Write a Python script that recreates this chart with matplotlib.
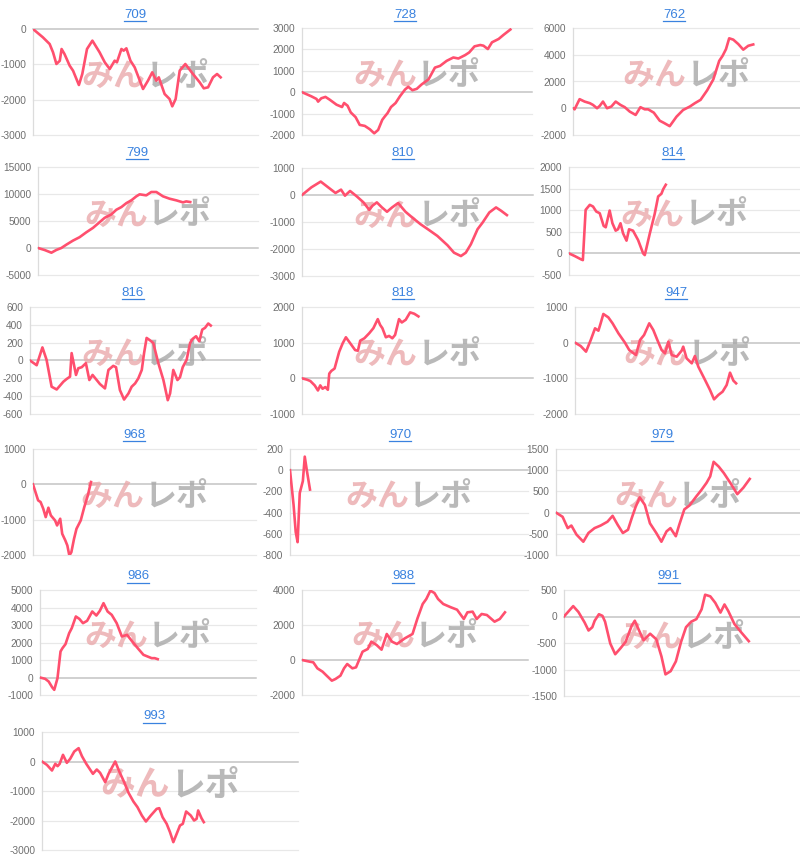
import matplotlib
matplotlib.use("Agg")
import matplotlib.pyplot as plt
from matplotlib.lines import Line2D

plt.rcParams["font.family"] = ["Liberation Sans", "DejaVu Sans"]
plt.rcParams["axes.unicode_minus"] = False

# ---- data: x = progress (% of common range), y = balance ----
titles = ["709", "728", "762", "799", "810", "814", "816", "818", "947",
          "968", "970", "979", "986", "988", "991", "993"]

x709 = [0, 4.4, 7.4, 8.9, 10.4, 11.9, 12.7, 14, 16.3, 17.8, 20.4, 21.9, 24, 26.4, 29.6, 31.9, 34.1, 36.3,
        37.3, 39.3, 40.3, 41.5, 43.3, 45.2, 48.9, 51.1, 53, 54.8, 55.9, 58.5, 60.7, 61.9, 63.4, 65.2, 67.7,
        71.1, 74.1, 75.9, 77.8, 80, 81.8, 83.4]
y709 = [0, -236, -425, -660, -990, -900, -566, -708, -1038, -1180, -1585, -1274, -566, -330, -660, -943,
        -1132, -896, -943, -566, -613, -547, -896, -1085, -1698, -1462, -1226, -1462, -1368, -1840, -1981,
        -2189, -1981, -1179, -991, -1274, -1510, -1679, -1651, -1368, -1274, -1368]

x728 = [0, 4, 6.3, 7, 8.4, 10.2, 12, 15, 17.4, 18.3, 19.8, 21.2, 23.3, 25.1, 27.3, 29.5, 31.4, 33.1, 34.9,
        36, 37.2, 38.7, 40.7, 42.6, 44.8, 46.2, 48, 49.9, 52, 55, 57.8, 60, 62.9, 65.8, 68, 70.9, 72.7, 75,
        77.5, 78.9, 80.8, 82.6, 85.5, 87.6, 90.6]
y728 = [0, -189, -315, -441, -283, -220, -346, -583, -693, -504, -630, -945, -1165, -1528, -1575, -1732,
        -1921, -1764, -1291, -1134, -976, -693, -504, -189, 126, 252, 94, 157, 362, 598, 1150, 1228, 1465,
        1622, 1575, 1732, 1858, 2142, 2205, 2173, 2016, 2331, 2488, 2677, 2929]

x762 = [0, 0.7, 2.9, 5.1, 7.4, 8.8, 10.6, 11.8, 13.2, 15, 16.9, 18.8, 20.9, 22.8, 25, 27.6, 29.7, 31.6,
        33.1, 35.6, 38.2, 40, 42.6, 45.6, 48.5, 51.5, 53.7, 56.2, 59.1, 61.8, 64.4, 65.9, 67.4, 68.8, 70.6,
        72.8, 75, 77.2, 79.4]
y762 = [0, -80, 680, 500, 380, 250, 0, 180, 500, 0, 130, 500, 250, 80, -250, -500, 80, -80, -80, -330,
        -930, -1090, -1340, -630, -130, 130, 380, 630, 1340, 2150, 3540, 3920, 4420, 5230, 5130, 4800,
        4380, 4670, 4770]

x799 = [0, 3, 6.1, 8.3, 10.6, 12.9, 15.9, 18.9, 22, 25, 28, 30.3, 33.3, 35.6, 37.9, 40.2, 42.4, 44.7,
        46.2, 49.2, 51.5, 53.8, 56.8, 59.8, 62.9, 65.9, 67.4, 69.2]
y799 = [0, -370, -870, -370, 0, 620, 1370, 2000, 2920, 3730, 4780, 5590, 6210, 7080, 7580, 8320, 8820,
        9570, 9940, 9750, 10370, 10370, 9570, 9130, 8820, 8450, 8630, 8510]

x810 = [0, 4.1, 8.1, 11.3, 14.5, 16.9, 18.6, 20.8, 23.7, 26.6, 29.1, 30.5, 32.4, 34.6, 36.8, 39, 41.6,
        44.8, 47.7, 51.3, 54.9, 58.6, 63, 65.8, 68.8, 70.9, 73.1, 76, 78.2, 81.1, 84, 86.2, 88.7]
y810 = [0, 286, 497, 286, 75, 199, -25, 149, -50, -273, -547, -398, -273, -460, -621, -460, -298, -621,
        -832, -1081, -1292, -1516, -1863, -2137, -2261, -2137, -1826, -1267, -1019, -646, -460, -584, -745]

x814 = [0, 2.5, 5.3, 6, 7.2, 9, 10.4, 11.8, 13.3, 15, 15.9, 17.6, 18.8, 20.2, 21.2, 22.3, 23.4, 24.9, 26,
        27.7, 29.9, 32.1, 32.8, 35, 37.1, 38.6, 40, 40.8, 41.9]
y814 = [0, -62, -140, -155, 1008, 1124, 1085, 969, 930, 636, 605, 992, 698, 527, 558, 698, 465, 295, 558,
        527, 310, 0, -39, 465, 915, 1318, 1380, 1488, 1589]

x816 = [0, 2.9, 5.4, 7.2, 9.4, 11.6, 14.5, 15.9, 17.4, 18.1, 20, 21, 22.5, 24.3, 25.8, 27.2, 29, 30.4,
        32.6, 34.1, 36.2, 37.4, 39.1, 40.9, 42.8, 44.2, 45.7, 47.1, 48.6, 49.6, 50.7, 52.2, 53.6, 55.8, 58,
        59.9, 60.9, 62.3, 64.1, 65.2, 66.4, 68.1, 69.6, 70.7, 72.2, 73.6, 74.9, 76.1, 77.5, 78.6]
y816 = [0, -53, 147, 8, -294, -325, -238, -208, -181, 83, -162, -87, -75, -30, -219, -162, -219, -264,
        -313, -106, -60, -75, -332, -438, -370, -294, -257, -200, -106, 83, 253, 226, 196, -30, -219, -445,
        -370, -106, -219, -189, -75, 8, 196, 242, 272, 215, 347, 366, 415, 392]

x818 = [0, 2.2, 3.6, 5.5, 6.9, 7.9, 8.9, 10.1, 11.2, 11.8, 12.7, 14.1, 16.1, 17.6, 19, 20.9, 23, 24.2,
        25.2, 27, 29.1, 30.9, 32.8, 33.8, 34.8, 36.3, 37.7, 39.1, 40.3, 42, 43.2, 44.9, 46.8, 48.6, 50.4]
y818 = [0, -38, -75, -198, -340, -198, -292, -245, -321, 132, 208, 274, 745, 981, 1151, 981, 792, 774,
        1057, 1123, 1264, 1406, 1660, 1500, 1406, 1151, 1189, 1123, 1217, 1660, 1566, 1642, 1849, 1811, 1736]

x947 = [0, 2.5, 4.9, 7, 8.9, 10.4, 11.4, 12.6, 14.8, 16.7, 19.3, 22.2, 24.1, 27.1, 28.9, 30.7, 33, 34.8,
        36.6, 38.5, 40, 41.5, 43, 45.2, 47.4, 48.1, 49.6, 51.9, 53.3, 54.8, 57.8, 60, 61.8, 63.7, 65.6,
        67.4, 68.9, 70.4, 71.6]
y947 = [0, -93, -252, 75, 402, 336, 542, 804, 710, 542, 262, 0, -206, -346, 75, 215, 542, 355, 75, -206,
        -299, 28, -346, -393, -224, -112, -439, -579, -374, -673, -1047, -1327, -1589, -1467, -1374, -1187,
        -841, -1065, -1140]

x968 = [0, 1.1, 2.3, 3.4, 4.6, 5.7, 6.9, 8, 9.9, 10.8, 12.2, 13.1, 14.5, 15.4, 16.3, 17.2, 18.4, 19.5,
        21.4, 23, 24.6, 26]
y968 = [0, -218, -454, -501, -690, -927, -662, -880, -1022, -1164, -974, -1400, -1589, -1731, -2015,
        -1920, -1542, -1258, -1022, -643, -312, 66]

x970 = [0, 1.5, 2.4, 3.2, 4.1, 5.4, 6.2, 7.1, 8.4]
y970 = [0, -327, -583, -679, -215, -103, 128, -6, -183]

x979 = [0, 2.7, 4.8, 6.3, 8.4, 11.2, 13.3, 15.8, 18.3, 21.1, 23.2, 25.3, 27.4, 29.5, 31, 32.6, 34.3,
        36.4, 38.5, 41.1, 43.2, 45.3, 46.9, 49.1, 50.5, 52.6, 54.7, 57.5, 59.6, 61.7, 63.2, 64.6, 66.7,
        68.8, 71.6, 74.3, 76.8, 79.4]
y979 = [0, -99, -366, -305, -519, -687, -481, -366, -305, -214, -76, -290, -481, -405, -137, 130, 359,
        183, -252, -481, -687, -443, -366, -557, -290, 76, 168, 382, 534, 702, 855, 1198, 1084, 931, 687,
        435, 588, 794]

x986 = [0, 2.4, 4, 5.7, 6.6, 8.1, 9.5, 10.4, 11.8, 13.5, 14.7, 16.6, 18.2, 19.9, 21.8, 24.2, 26.1, 27.7,
        29.4, 31.3, 33.2, 35.5, 37.9, 40.3, 42.7, 45.5, 47.9, 49.8, 51.7, 53.1, 54.5]
y986 = [0, -76, -229, -571, -705, -38, 1486, 1676, 1905, 2533, 2819, 3486, 3352, 3105, 3238, 3771, 3543,
        3810, 4248, 3771, 3581, 3105, 2343, 2438, 2057, 1638, 1295, 1200, 1105, 1105, 1048]

x988 = [0, 3.4, 5, 6.8, 9.1, 10.9, 13.2, 14.8, 17, 18.6, 20, 22.3, 23.9, 26.8, 29.1, 30.7, 33, 35.2, 37.5,
        39.8, 42, 45.5, 48.9, 51.1, 53.4, 55, 56.8, 58.6, 60.2, 62.5, 65.9, 68.6, 71.6, 73.2, 75.5, 77.3,
        79.5, 81.8, 85.2, 87.5, 89.8]
y988 = [0, -95, -133, -476, -667, -895, -1181, -1086, -895, -476, -229, -476, -419, 476, 629, 1048, 857,
        590, 1486, 1048, 914, 1238, 1486, 2381, 3200, 3486, 3962, 3829, 3486, 3200, 3010, 2876, 2343, 2724,
        2762, 2343, 2629, 2571, 2190, 2343, 2724]

x991 = [0, 1.7, 3.9, 6.1, 8.7, 10.4, 12, 13, 14.8, 16.3, 17.4, 19.6, 21.7, 23.9, 26.1, 28.7, 30, 31.5,
        33.7, 36.5, 39.1, 41.3, 43, 45.2, 47.4, 49.6, 51.7, 53.9, 56.1, 58.3, 59.8, 62, 64.1, 66.3, 68,
        69.6, 72.2, 75, 78.3]
y991 = [0, 86, 196, 86, -110, -264, -202, -80, 43, 12, -98, -509, -712, -601, -479, -172, -80, -233,
        -448, -325, -429, -755, -1092, -1031, -847, -479, -202, -98, -49, 135, 411, 380, 258, 74, 227, 104,
        -141, -294, -466]

x993 = [0, 1.9, 3.9, 5.2, 6.1, 6.9, 8.2, 9.7, 11, 12.6, 14.3, 15.6, 17.3, 18.6, 19.9, 21.4, 22.7, 24.7,
        26, 28.6, 30.3, 32.1, 33.8, 35.7, 37.3, 39, 40.6, 42.5, 44.8, 45.8, 47.1, 48.7, 50, 51.3, 52.6,
        53.9, 55, 56.3, 58.1, 59.4, 60.4, 61, 62.3, 63.2]
y993 = [0, -113, -305, -79, -158, -79, 226, -45, 90, 339, 452, 181, -79, -249, -418, -271, -384, -701,
        -418, 0, -362, -701, -1062, -1356, -1548, -1830, -2034, -1830, -1605, -1582, -1887, -2113, -2395,
        -2734, -2452, -2169, -2113, -1695, -1830, -2000, -1943, -1661, -1921, -2056]

# y-axis tick values for each chart
ticks709 = [-3000, -2000, -1000, 0]
ticks728 = [-2000, -1000, 0, 1000, 2000, 3000]
ticks762 = [-2000, 0, 2000, 4000, 6000]
ticks799 = [-5000, 0, 5000, 10000, 15000]
ticks810 = [-3000, -2000, -1000, 0, 1000]
ticks814 = [-500, 0, 500, 1000, 1500, 2000]
ticks816 = [-600, -400, -200, 0, 200, 400, 600]
ticks818 = [-1000, 0, 1000, 2000]
ticks947 = [-2000, -1000, 0, 1000]
ticks968 = [-2000, -1000, 0, 1000]
ticks970 = [-800, -600, -400, -200, 0, 200]
ticks979 = [-1000, -500, 0, 500, 1000, 1500]
ticks986 = [-1000, 0, 1000, 2000, 3000, 4000, 5000]
ticks988 = [-2000, 0, 2000, 4000]
ticks991 = [-1500, -1000, -500, 0, 500]
ticks993 = [-3000, -2000, -1000, 0, 1000]

series = [(x709, y709, ticks709), (x728, y728, ticks728), (x762, y762, ticks762),
          (x799, y799, ticks799), (x810, y810, ticks810), (x814, y814, ticks814),
          (x816, y816, ticks816), (x818, y818, ticks818), (x947, y947, ticks947),
          (x968, y968, ticks968), (x970, y970, ticks970), (x979, y979, ticks979),
          (x986, y986, ticks986), (x988, y988, ticks988), (x991, y991, ticks991),
          (x993, y993, ticks993)]

# ---- layout (pixels): plot box left, right, top, bottom; title centre ----
W, H = 800, 863
boxes = [
    (33, 258, 29, 135), (302, 532, 28, 135), (573, 800, 28, 135),
    (38, 258, 167, 275), (302, 533, 168, 276), (569, 800, 167, 275),
    (30, 260, 307, 414), (302, 533, 307, 414), (575, 800, 307, 414),
    (33, 256, 449, 555), (290, 528, 449, 555), (556, 800, 449, 555),
    (40, 256, 590, 695), (302, 528, 590, 695), (564, 800, 590, 696),
    (42, 298, 732, 850),
]
title_pos = [
    (135, 15), (405, 15), (674, 15),
    (137, 153), (403, 153), (673, 153),
    (133, 293), (403, 293), (676, 293),
    (134, 435), (400, 435), (662, 435),
    (138, 576), (403, 576), (669, 576),
    (154, 716),
]

LINE = "#ff4f6e"
GRID = "#e8e8e8"
BASE = "#c4c4c4"
TITLE = "#3a82df"

fig = plt.figure(figsize=(W / 100, H / 100), dpi=100)
fig.patch.set_facecolor("white")

title_texts = []
for (xs, ys, ticks), (l, r, t, b), (tx, ty), name in zip(series, boxes, title_pos, titles):
    ax = fig.add_axes([l / W, 1 - b / H, (r - l) / W, (b - t) / H])
    ax.set_xlim(0, 100)
    ax.set_ylim(ticks[0], ticks[-1])
    ax.set_yticks(ticks)
    ax.set_yticklabels([str(v) for v in ticks])
    ax.set_xticks([])
    for s in ("top", "right", "bottom"):
        ax.spines[s].set_visible(False)
    ax.spines["left"].set_color("#dcdcdc")
    ax.spines["left"].set_linewidth(0.9)
    ax.tick_params(axis="y", length=0, pad=5, labelsize=7.3, labelcolor="#6f6f6f")
    for v in ticks:
        ax.axhline(v, color=BASE if v == 0 else GRID,
                   lw=1.1 if v == 0 else 0.9, zorder=1, clip_on=False)
    # logo watermark
    wm_size = 25 if name == "993" else 23
    ax.text(0.5, 0.55, "みん", transform=ax.transAxes, ha="right", va="center",
            fontsize=wm_size, fontweight="bold", color="#eaa9ab", alpha=0.8,
            family=["Noto Sans CJK JP"], zorder=2)
    ax.text(0.5, 0.55, "レポ", transform=ax.transAxes, ha="left", va="center",
            fontsize=wm_size, fontweight="bold", color="#a8a8a8", alpha=0.8,
            family=["Noto Sans CJK JP"], zorder=2)
    ax.plot(xs, ys, color=LINE, lw=1.9, solid_joinstyle="round", zorder=3)
    title_texts.append(fig.text(tx / W, 1 - ty / H, name, ha="center", va="center",
                                fontsize=9.5, color=TITLE))

# underline the chart titles
fig.canvas.draw()
renderer = fig.canvas.get_renderer()
for txt in title_texts:
    bb = txt.get_window_extent(renderer)
    y = (bb.y0 - 0.5) / H
    fig.add_artist(Line2D([bb.x0 / W, bb.x1 / W], [y, y], color=TITLE, lw=0.9,
                          transform=fig.transFigure))

fig.savefig("out.png", dpi=100, facecolor="white")
